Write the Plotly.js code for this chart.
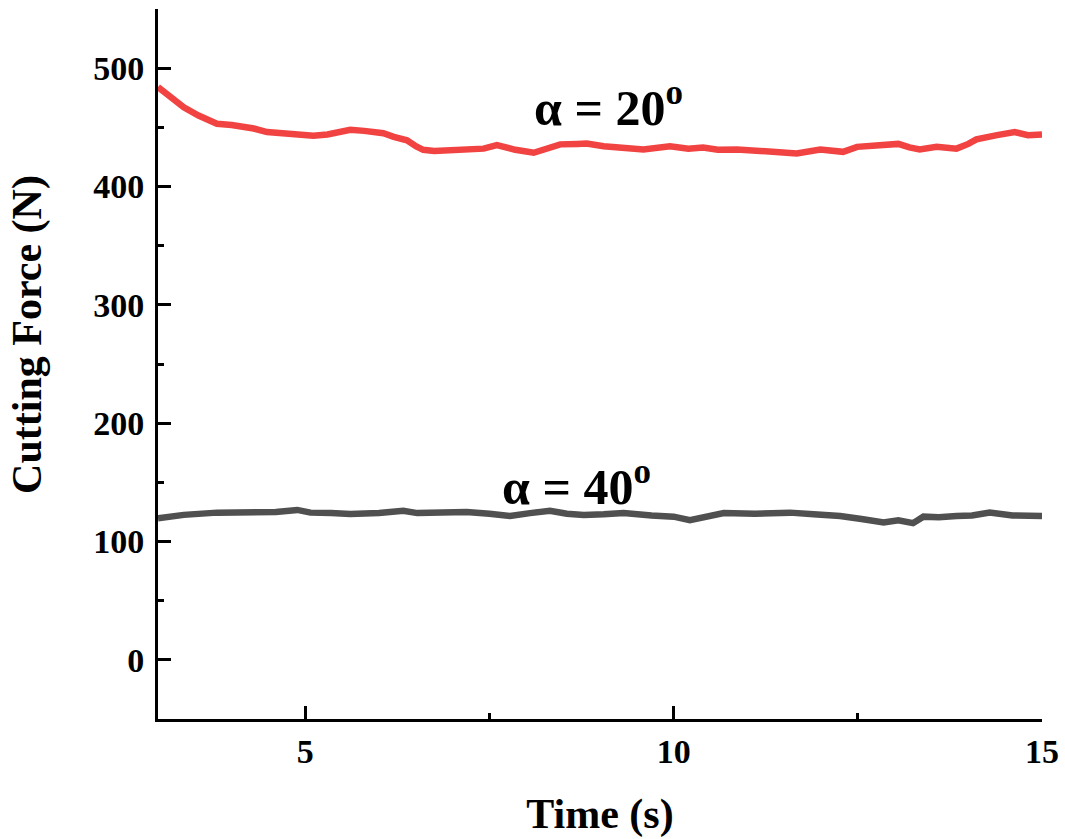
<!DOCTYPE html>
<html>
<head>
<meta charset="utf-8">
<script src="https://cdn.plot.ly/plotly-3.0.1.min.js"></script>
<style>html,body{margin:0;padding:0;background:#fff;}#chart{width:1065px;height:839px;}</style>
</head>
<body>
<div id="chart"></div>
<script>
// Cutting force vs time, rake angle 20 deg (red)
const timeA20 = [3.00,3.10,3.20,3.35,3.55,3.80,4.00,4.16,4.30,4.48,4.70,4.90,5.11,5.30,5.45,5.61,5.80,6.06,6.20,6.38,6.50,6.60,6.75,6.97,7.24,7.42,7.60,7.85,8.10,8.30,8.46,8.69,8.82,9.05,9.27,9.59,9.95,10.20,10.40,10.60,10.86,11.10,11.31,11.50,11.67,11.99,12.30,12.49,12.80,13.05,13.20,13.34,13.57,13.84,14.00,14.11,14.39,14.63,14.81,15.00];
const forceA20 = [484,479,474,467,460,453,452,451,449,446,445,444,443,444,446,448,447,445,442,439,434,431,430,431,431,432,435,431,428.5,432,435.6,436,436.4,434,433,431.3,434,432,433,431,431.3,430,429.3,429,428,431.3,429.3,433.5,435,436,433,431.3,433.5,432,436,439.8,443.4,446,443.4,444];
// Cutting force vs time, rake angle 40 deg (grey)
const timeA40 = [3.00,3.35,3.80,4.25,4.60,4.89,5.07,5.35,5.61,6.00,6.33,6.52,6.85,7.19,7.50,7.78,8.05,8.32,8.55,8.78,9.05,9.32,9.70,10.00,10.22,10.45,10.68,11.10,11.58,11.90,12.26,12.55,12.85,13.05,13.25,13.39,13.60,13.84,14.05,14.29,14.60,15.00];
const forceA40 = [119.7,122.5,124.4,124.4,125,126.7,124.4,124,123.3,124,126,124,124.5,125,123.5,121.6,124,126,123.5,122.5,123,124,122,121,118,121.5,124,123.5,124.4,123,121.6,119,116,118,115.5,121,120.5,121.6,122,124.4,122,121.6];

const seriesNames = ['α = 20°','α = 40°'];
const labelTexts = ['α = 20<sup>o</sup>','α = 40<sup>o</sup>'];
const labelPos = [[9.11,469.5],[8.68,149]];
const xTitle = 'Time (s)';
const yTitle = 'Cutting Force (N)';

const FONT = '"Liberation Serif","Times New Roman",serif';

const traces = [
  {x: timeA20, y: forceA20, name: seriesNames[0], type:'scatter', mode:'lines',
   line:{color:'#F24343', width:6.5}, showlegend:false},
  {x: timeA40, y: forceA40, name: seriesNames[1], type:'scatter', mode:'lines',
   line:{color:'#505050', width:6.5}, showlegend:false}
];

const annots = labelTexts.map((t,i)=>({
  x:labelPos[i][0], y:labelPos[i][1], xref:'x', yref:'y', text:t, showarrow:false,
  xanchor:'center', yanchor:'middle', font:{family:FONT, size:50, weight:'bold', color:'#000'}
}));
// y-axis title, placed as in the reference (centred slightly above the plot middle)
annots.push({
  x:-0.147, y:0.541, xref:'paper', yref:'paper', text:yTitle, textangle:-90, showarrow:false,
  xanchor:'center', yanchor:'middle', font:{family:FONT, size:42, weight:'bold', color:'#000'}
});

const layout = {
  width:1065, height:839,
  margin:{l:158, r:23, t:9, b:120},
  paper_bgcolor:'#fff', plot_bgcolor:'#fff',
  font:{family:FONT, color:'#000', size:34, weight:'bold'},
  xaxis:{
    range:[3,15], tick0:0, dtick:5, ticks:'inside', ticklen:13, tickwidth:3, tickcolor:'#000',
    showline:true, linewidth:3, linecolor:'#000', showgrid:false, zeroline:false, mirror:false,
    tickfont:{family:FONT, size:34, weight:'bold'},
    minor:{dtick:2.5, tick0:0, ticks:'inside', ticklen:6, tickwidth:3, tickcolor:'#000', showgrid:false},
    title:{text:xTitle, font:{family:FONT, size:42, weight:'bold'}, standoff:30}
  },
  yaxis:{
    range:[-50,550], tick0:0, dtick:100, ticks:'inside', ticklen:13, tickwidth:3, tickcolor:'#000',
    showline:true, linewidth:3, linecolor:'#000', showgrid:false, zeroline:false, mirror:false,
    tickfont:{family:FONT, size:34, weight:'bold'}, ticklabelstandoff:4,
    minor:{dtick:50, tick0:0, ticks:'inside', ticklen:6, tickwidth:3, tickcolor:'#000', showgrid:false}
  },
  annotations: annots
};

Plotly.newPlot('chart', traces, layout, {displayModeBar:false, staticPlot:true});
</script>
</body>
</html>
